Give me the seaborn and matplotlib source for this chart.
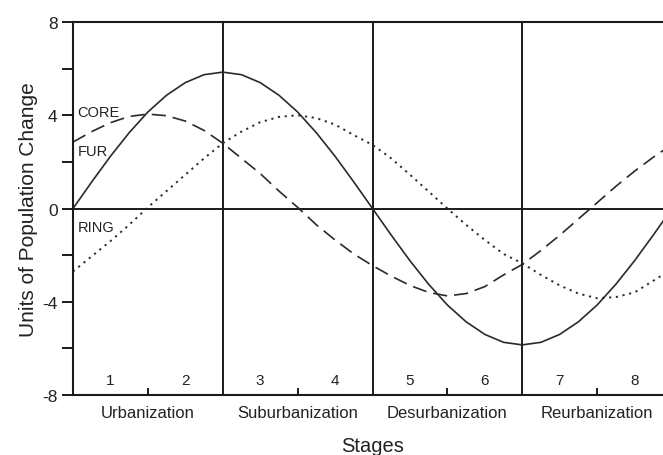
import matplotlib
matplotlib.use("Agg")
import matplotlib.pyplot as plt
import seaborn as sns
import pandas as pd
import numpy as np

# ---- data ----
stage_x = [0, 0.25, 0.5, 0.75, 1.0, 1.25, 1.5, 1.75, 2.0, 2.25, 2.5, 2.75, 3.0,
           3.25, 3.5, 3.75, 4.0, 4.25, 4.5, 4.75, 5.0, 5.25, 5.5, 5.75, 6.0,
           6.25, 6.5, 6.75, 7.0, 7.25, 7.5, 7.75, 8.0]
fur = [0, 1.14, 2.24, 3.25, 4.14, 4.86, 5.40, 5.74, 5.85, 5.74, 5.40, 4.86, 4.14,
       3.25, 2.24, 1.14, 0, -1.14, -2.24, -3.25, -4.14, -4.86, -5.40, -5.74, -5.85,
       -5.74, -5.40, -4.86, -4.14, -3.25, -2.24, -1.14, 0]
core = [2.85, 3.3, 3.68, 3.95, 4.05, 3.98, 3.75, 3.35, 2.8, 2.15, 1.5, 0.75, 0.05,
        -0.7, -1.35, -1.95, -2.45, -2.9, -3.3, -3.6, -3.75, -3.65, -3.35, -2.85, -2.4,
        -1.8, -1.15, -0.45, 0.25, 0.95, 1.6, 2.2, 2.75]
ring = [-2.7, -2.05, -1.4, -0.7, 0.05, 0.75, 1.45, 2.15, 2.8, 3.3, 3.7, 3.93, 4.0,
        3.88, 3.6, 3.15, 2.73, 2.15, 1.45, 0.73, 0.0, -0.7, -1.35, -1.95, -2.35,
        -2.85, -3.3, -3.65, -3.85, -3.8, -3.6, -3.1, -2.6]

substage_labels = ["1", "2", "3", "4", "5", "6", "7", "8"]
substage_pos = [0.5, 1.5, 2.5, 3.5, 4.5, 5.5, 6.5, 7.5]
stage_names = ["Urbanization", "Suburbanization", "Desurbanization", "Reurbanization"]
stage_pos = [1, 3, 5, 7]
stage_bounds = [2, 4, 6]
y_major = [-8, -4, 0, 4, 8]
y_minor = [-6, -2, 2, 6]
series_labels = {"CORE": 4.15, "FUR": 2.45, "RING": -0.8}

sns.set_style("white")
plt.rcParams['font.family'] = ['Liberation Sans', 'DejaVu Sans']

fig = plt.figure(figsize=(6.63, 4.56), dpi=100)
ax = fig.add_axes([73/663, 60/456, 599/663, 373/456])

df = pd.DataFrame({"x": stage_x, "FUR": fur, "CORE": core, "RING": ring})
line_col = "#2a2a2a"
sns.lineplot(data=df, x="x", y="FUR", ax=ax, color=line_col, lw=1.2, ls="-")
sns.lineplot(data=df, x="x", y="CORE", ax=ax, color=line_col, lw=1.2, ls=(0, (8.5, 4.2)))
sns.lineplot(data=df, x="x", y="RING", ax=ax, color=line_col, lw=1.4, ls=(0, (1.1, 2.4)))

ax.set_xlim(0, 8)
ax.set_ylim(-8, 8)

frame_col = "#1a1a1a"
for b in stage_bounds:
    ax.axvline(b, color=frame_col, lw=1.4, zorder=1)
ax.axhline(0, color=frame_col, lw=1.4, zorder=1)

for s in ["left", "bottom", "top"]:
    ax.spines[s].set_linewidth(1.5)
    ax.spines[s].set_color(frame_col)
ax.spines["right"].set_visible(False)

txt_col = "#222222"
ax.set_yticks(y_major)
ax.set_yticks(y_minor, minor=True)
ax.set_yticklabels([str(v) for v in y_major])
ax.tick_params(axis="y", which="both", direction="out", length=8, width=1.4,
               color=frame_col, labelsize=12.5, labelcolor=txt_col, left=True, pad=3)

ax.set_xticks(stage_pos)
ax.set_xticklabels(stage_names)
ax.tick_params(axis="x", which="major", direction="in", length=5, width=1.4,
               color=frame_col, labelsize=12, labelcolor=txt_col, bottom=True, pad=7)

for p, lab in zip(substage_pos, substage_labels):
    ax.text(p, -7.35, lab, ha="center", va="center", fontsize=11, color=txt_col)

for name, yv in series_labels.items():
    ax.text(0.06, yv, name, ha="left", va="center", fontsize=10.5, color=txt_col)

ax.set_xlabel("Stages", fontsize=14.5, color=txt_col, labelpad=12)
ax.set_ylabel("Units of Population Change", fontsize=15, color=txt_col, labelpad=3)

fig.savefig("out.png", dpi=100)
